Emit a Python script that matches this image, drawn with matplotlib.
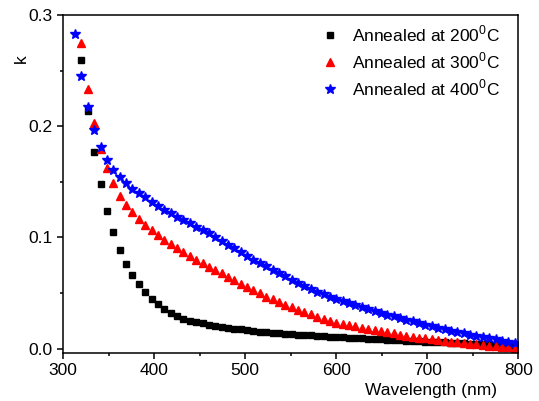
import matplotlib
matplotlib.use('Agg')
import matplotlib.pyplot as plt
from matplotlib.ticker import MultipleLocator

plt.rcParams['font.family'] = 'Liberation Sans'
plt.rcParams['font.size'] = 12.5

# wavelengths (nm), sampled every 7 nm
wl_400 = [313, 320, 327, 334, 341, 348, 355, 362, 369, 376, 383, 390, 397, 404,
          411, 418, 425, 432, 439, 446, 453, 460, 467, 474, 481, 488, 495, 502,
          509, 516, 523, 530, 537, 544, 551, 558, 565, 572, 579, 586, 593, 600,
          607, 614, 621, 628, 635, 642, 649, 656, 663, 670, 677, 684, 691, 698,
          705, 712, 719, 726, 733, 740, 747, 754, 761, 768, 775, 782, 789, 796]
wl_200 = wl_400[1:]
wl_300 = wl_400[1:]

k_200 = [0.2595, 0.2137, 0.1768, 0.1478, 0.1237, 0.1049, 0.0890, 0.0764, 0.0662,
         0.0578, 0.0506, 0.0449, 0.0398, 0.0359, 0.0323, 0.0293, 0.0270, 0.0252,
         0.0238, 0.0226, 0.0215, 0.0205, 0.0196, 0.0188, 0.0180, 0.0173, 0.0166,
         0.0159, 0.0153, 0.0148, 0.0143, 0.0138, 0.0134, 0.0130, 0.0126, 0.0122,
         0.0118, 0.0114, 0.0110, 0.0106, 0.0103, 0.0100, 0.0097, 0.0094, 0.0091,
         0.0088, 0.0085, 0.0082, 0.0079, 0.0076, 0.0073, 0.0070, 0.0067, 0.0065,
         0.0062, 0.0060, 0.0057, 0.0055, 0.0052, 0.0050, 0.0047, 0.0045, 0.0042,
         0.0040, 0.0037, 0.0035, 0.0032, 0.0030, 0.0027]

k_300 = [0.2750, 0.2335, 0.2030, 0.1795, 0.1620, 0.1488, 0.1375, 0.1295, 0.1225,
         0.1165, 0.1110, 0.1065, 0.1022, 0.0977, 0.0938, 0.0902, 0.0866, 0.0830,
         0.0800, 0.0767, 0.0737, 0.0707, 0.0677, 0.0647, 0.0617, 0.0583, 0.0553,
         0.0527, 0.0497, 0.0467, 0.0443, 0.0419, 0.0395, 0.0371, 0.0347, 0.0326,
         0.0307, 0.0287, 0.0269, 0.0251, 0.0234, 0.0222, 0.0211, 0.0200, 0.0189,
         0.0178, 0.0167, 0.0156, 0.0146, 0.0136, 0.0126, 0.0117, 0.0108, 0.0099,
         0.0091, 0.0083, 0.0076, 0.0069, 0.0062, 0.0055, 0.0049, 0.0043, 0.0037,
         0.0031, 0.0026, 0.0021, 0.0016, 0.0011, 0.0006]

k_400 = [0.2830, 0.2450, 0.2170, 0.1966, 0.1813, 0.1696, 0.1606, 0.1540, 0.1487,
         0.1435, 0.1397, 0.1361, 0.1321, 0.1282, 0.1246, 0.1217, 0.1186, 0.1156,
         0.1127, 0.1097, 0.1066, 0.1037, 0.1003, 0.0970, 0.0935, 0.0903, 0.0872,
         0.0836, 0.0800, 0.0770, 0.0740, 0.0710, 0.0680, 0.0650, 0.0620, 0.0590,
         0.0560, 0.0535, 0.0511, 0.0489, 0.0468, 0.0447, 0.0428, 0.0410, 0.0392,
         0.0374, 0.0356, 0.0338, 0.0320, 0.0304, 0.0289, 0.0274, 0.0259, 0.0244,
         0.0229, 0.0214, 0.0200, 0.0186, 0.0174, 0.0161, 0.0149, 0.0137, 0.0125,
         0.0114, 0.0103, 0.0092, 0.0082, 0.0072, 0.0062, 0.0052]

labels = ['Annealed at 200$^\\mathregular{0}$C',
          'Annealed at 300$^\\mathregular{0}$C',
          'Annealed at 400$^\\mathregular{0}$C']

fig = plt.figure(figsize=(5.39, 4.01), dpi=100)
ax = fig.add_axes([0.1174, 0.1204, 0.8442, 0.8422])

ax.plot(wl_200, k_200, 's', color='black', ms=4.5, mec='black', label=labels[0])
ax.plot(wl_300, k_300, '^', color='red', ms=6, mec='red', label=labels[1])
ax.plot(wl_400, k_400, '*', color='blue', ms=7, mec='blue', label=labels[2])

ax.set_xlim(300, 800)
ax.set_ylim(-0.0037, 0.3)
ax.xaxis.set_major_locator(MultipleLocator(100))
ax.xaxis.set_minor_locator(MultipleLocator(50))
ax.yaxis.set_major_locator(MultipleLocator(0.1))
ax.yaxis.set_minor_locator(MultipleLocator(0.05))
ax.yaxis.set_major_formatter(matplotlib.ticker.FormatStrFormatter('%.1f'))
ax.tick_params(which='major', direction='out', length=4, width=1.1, labelsize=12.5)
ax.tick_params(which='minor', direction='out', length=2.5, width=1.1)
for s in ax.spines.values():
    s.set_linewidth(1.1)

ax.set_xlabel('Wavelength (nm)', fontsize=12.5)
ax.xaxis.set_label_coords(0.808, -0.09)
ax.set_ylabel('k', fontsize=12.5)
ax.yaxis.set_label_coords(-0.075, 0.87)

ax.legend(loc='upper left', bbox_to_anchor=(0.532, 1.02), frameon=False,
          numpoints=1, handlelength=1.0, handletextpad=0.8, labelspacing=0.36,
          fontsize=12.5)

fig.savefig('out.png', dpi=100)
